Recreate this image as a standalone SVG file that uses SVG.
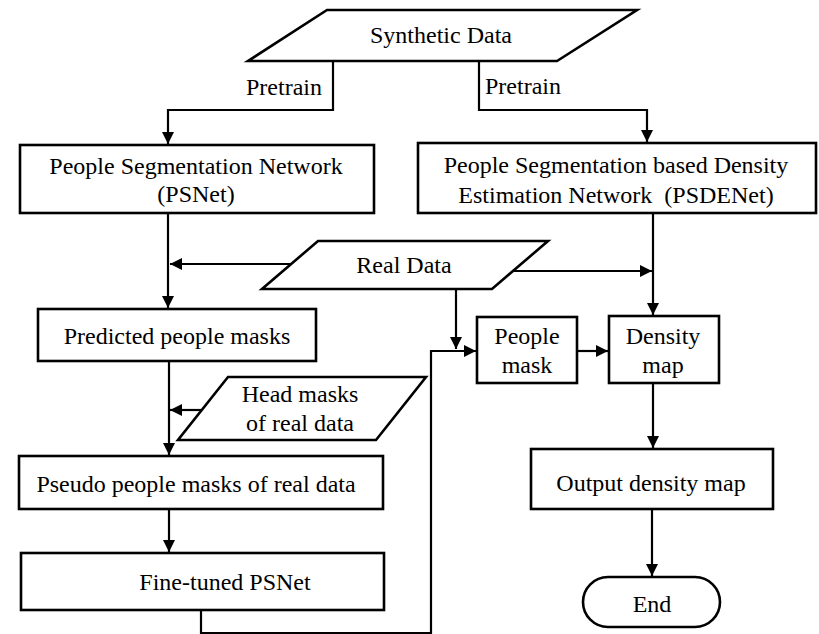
<svg xmlns="http://www.w3.org/2000/svg" width="819" height="634" viewBox="0 0 819 634">
  <style>
    .box { fill: #fff; stroke: #000; stroke-width: 2.6; }
    .io { fill: #fff; stroke: #000; stroke-width: 2.6; stroke-linejoin: miter; }
    .edge { fill: none; stroke: #000; stroke-width: 2.2; }
    .arr { marker-end: url(#head); }
    .c { text-anchor: middle; }
  </style>
  <defs>
    <marker id="head" markerUnits="userSpaceOnUse" markerWidth="14" markerHeight="12" refX="12" refY="6" orient="auto">
      <path d="M0,0 L12,6 L0,12 Z" fill="#000"/>
    </marker>
  </defs>

  <rect width="819" height="634" fill="#fff"/>

  <g id="connectors">
    <path class="edge arr" d="M333,61 V110 H168 V144"/>
    <path class="edge arr" d="M479,61 V110 H647 V142"/>
    <path class="edge arr" d="M168,213 V308"/>
    <path class="edge arr" d="M291,264 H170"/>
    <path class="edge arr" d="M513,271 H652"/>
    <path class="edge arr" d="M653,213 V315"/>
    <path class="edge arr" d="M456,289 V349"/>
    <path class="edge arr" d="M201,610 V633 H431 V351 H476"/>
    <path class="edge arr" d="M577,351 H608"/>
    <path class="edge arr" d="M169,361 V455"/>
    <path class="edge arr" d="M201,410 H170"/>
    <path class="edge arr" d="M169,509 V552"/>
    <path class="edge arr" d="M653,383 V448"/>
    <path class="edge arr" d="M652,509 V576"/>
  </g>

  <g font-family="Liberation Serif, serif" font-size="24" fill="#000">
    <g id="synthetic-data">
      <polygon class="io" points="327,10 637,10 557,61 248,61"/>
      <text class="c" x="441" y="43">Synthetic Data</text>
    </g>
    <g id="pretrain-labels">
      <text class="c" x="284" y="95">Pretrain</text>
      <text x="485" y="94">Pretrain</text>
    </g>

    <g id="psnet">
      <rect class="box" x="20" y="145" width="354" height="68"/>
      <text class="c" x="196" y="174">People Segmentation Network</text>
      <text class="c" x="196" y="202">(PSNet)</text>
    </g>

    <g id="psdenet">
      <rect class="box" x="418" y="143" width="398" height="70"/>
      <text class="c" x="616" y="173">People Segmentation based Density</text>
      <text class="c" x="616" y="203" xml:space="preserve">Estimation Network  (PSDENet)</text>
    </g>

    <g id="real-data">
      <polygon class="io" points="318,241 548,241 492,289 262,289"/>
      <text class="c" x="404" y="273">Real Data</text>
    </g>

    <g id="predicted-masks">
      <rect class="box" x="38" y="309" width="278" height="52"/>
      <text class="c" x="177" y="344">Predicted people masks</text>
    </g>

    <g id="people-mask">
      <rect class="box" x="477" y="317" width="100" height="66"/>
      <text class="c" x="527" y="344">People</text>
      <text class="c" x="527" y="373">mask</text>
    </g>

    <g id="density-map">
      <rect class="box" x="609" y="316" width="110" height="67"/>
      <text class="c" x="663" y="344">Density</text>
      <text class="c" x="663" y="373">map</text>
    </g>

    <g id="head-masks">
      <polygon class="io" points="228,377 426,377 376,440 178,440"/>
      <text class="c" x="300" y="402">Head masks</text>
      <text class="c" x="300" y="431">of real data</text>
    </g>

    <g id="pseudo-masks">
      <rect class="box" x="19" y="456" width="364" height="53"/>
      <text class="c" x="196" y="492">Pseudo people masks of real data</text>
    </g>

    <g id="fine-tuned-psnet">
      <rect class="box" x="21" y="553" width="363" height="57"/>
      <text class="c" x="225" y="590">Fine-tuned PSNet</text>
    </g>

    <g id="output-density-map">
      <rect class="box" x="531" y="449" width="242" height="60"/>
      <text class="c" x="651" y="491">Output density map</text>
    </g>

    <g id="end">
      <rect class="box" x="583" y="577" width="137" height="50" rx="25" ry="25"/>
      <text class="c" x="652" y="612">End</text>
    </g>
  </g>
</svg>
